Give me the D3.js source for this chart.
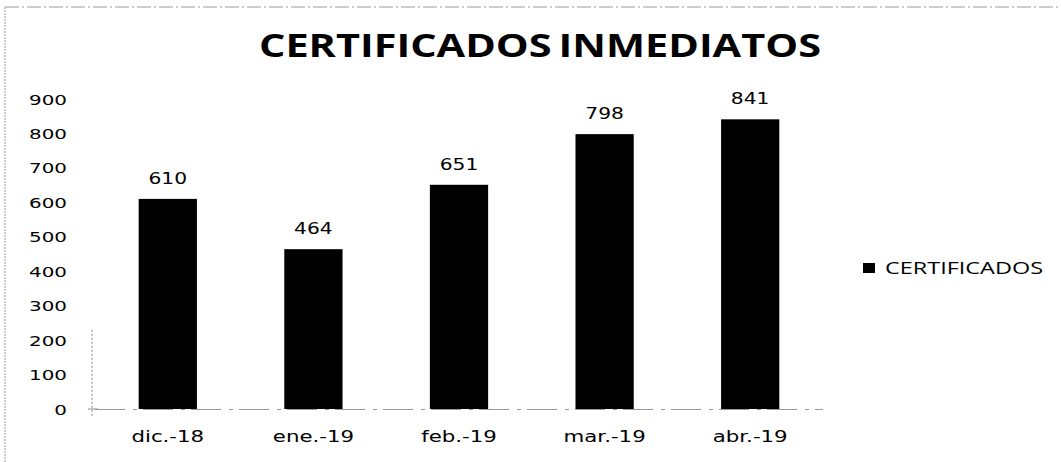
<!DOCTYPE html>
<html>
<head>
<meta charset="utf-8">
<script src="https://cdn.jsdelivr.net/npm/d3@7"></script>
<style>
  html, body { margin: 0; padding: 0; background: #fff; }
  svg { display: block; }
</style>
</head>
<body>
<svg id="chart" width="1061" height="462"></svg>
<script>
const categories = ["dic.-18", "ene.-19", "feb.-19", "mar.-19", "abr.-19"];
const certificados = [610, 464, 651, 798, 841];
const yTicks = [0, 100, 200, 300, 400, 500, 600, 700, 800, 900];
const seriesName = "CERTIFICADOS";
const chartTitle = "CERTIFICADOS INMEDIATOS";

const svg = d3.select("#chart");
const stretch = 1.42;

function widen(sel, factor) {
  sel.each(function () {
    const w = this.getComputedTextLength();
    d3.select(this).attr("textLength", w * factor).attr("lengthAdjust", "spacingAndGlyphs");
  });
}

// scanned frame
svg.append("line").attr("x1", 5).attr("x2", 1061).attr("y1", 7).attr("y2", 7)
  .attr("stroke", "#9a9a9a").attr("stroke-width", 1).attr("stroke-dasharray", "14 3 2 3");
svg.append("line").attr("x1", 5).attr("x2", 5).attr("y1", 7).attr("y2", 462)
  .attr("stroke", "#9a9a9a").attr("stroke-width", 1).attr("stroke-dasharray", "2 1");

const x = d3.scaleBand().domain(categories).range([95, 823]).paddingInner(0.6).paddingOuter(0.3);
const y = d3.scaleLinear().domain([0, 900]).range([409, 99]);

// title
const title = svg.append("text")
  .attr("x", 540).attr("y", 57)
  .attr("text-anchor", "middle")
  .attr("font-family", "'Open Sans', sans-serif")
  .attr("font-weight", "bold")
  .attr("font-size", 32)
  .attr("fill", "#000")
  .attr("word-spacing", -3)
  .text(chartTitle);
title.attr("textLength", 562).attr("lengthAdjust", "spacingAndGlyphs");

// y axis (labels only)
const yAxis = d3.axisLeft(y).tickValues(yTicks).tickSize(0).tickPadding(0);
const yG = svg.append("g").attr("transform", "translate(67,0)").call(yAxis);
yG.select(".domain").remove();
yG.selectAll("text")
  .attr("font-family", "'DejaVu Sans', sans-serif")
  .attr("font-size", 14)
  .attr("fill", "#000")
  .attr("dy", "0.36em");
widen(yG.selectAll("text"), stretch);

// small tick marks near the axis
svg.append("line").attr("x1", 92).attr("x2", 92).attr("y1", y(230)).attr("y2", y(-20))
  .attr("stroke", "#888").attr("stroke-dasharray", "2 2");
svg.append("line").attr("x1", 88).attr("x2", 98).attr("y1", y(0)).attr("y2", y(0))
  .attr("stroke", "#888");

// baseline
svg.append("line").attr("x1", 95).attr("x2", 823).attr("y1", y(0) + 0.5).attr("y2", y(0) + 0.5)
  .attr("stroke", "#999").attr("stroke-width", 1).attr("stroke-dasharray", "30 8 4 6");

// bars
svg.append("g").selectAll("rect")
  .data(certificados)
  .join("rect")
  .attr("x", (d, i) => x(categories[i]))
  .attr("y", d => y(d))
  .attr("width", x.bandwidth())
  .attr("height", d => y(0) - y(d))
  .attr("fill", "#000");

// data labels
const labels = svg.append("g").selectAll("text")
  .data(certificados)
  .join("text")
  .attr("x", (d, i) => x(categories[i]) + x.bandwidth() / 2)
  .attr("y", d => y(d) - 15)
  .attr("text-anchor", "middle")
  .attr("font-family", "'DejaVu Sans', sans-serif")
  .attr("font-size", 15)
  .attr("fill", "#000")
  .text(d => d);
widen(labels, stretch * 0.95);

// x axis labels
const xAxis = d3.axisBottom(x).tickSize(0).tickPadding(0);
const xG = svg.append("g").attr("transform", `translate(0,${y(0)})`).call(xAxis);
xG.select(".domain").remove();
xG.selectAll("text")
  .attr("font-family", "'DejaVu Sans', sans-serif")
  .attr("font-size", 15)
  .attr("fill", "#000")
  .attr("dy", 0)
  .attr("y", 33);
widen(xG.selectAll("text"), stretch);

// legend
svg.append("rect").attr("x", 863).attr("y", 263).attr("width", 12).attr("height", 10).attr("fill", "#000");
const leg = svg.append("text")
  .attr("x", 885).attr("y", 274)
  .attr("font-family", "'Open Sans', sans-serif")
  .attr("font-size", 16)
  .attr("fill", "#000")
  .text(seriesName);
leg.attr("textLength", 158).attr("lengthAdjust", "spacingAndGlyphs");
</script>
</body>
</html>
